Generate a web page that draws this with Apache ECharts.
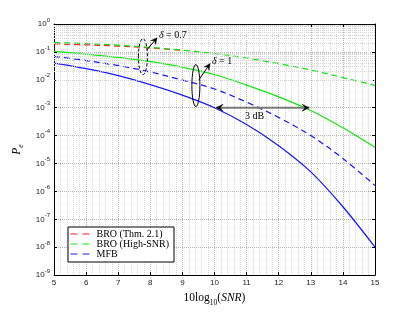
<!DOCTYPE html>
<html><head><meta charset="utf-8">
<script src="https://cdn.jsdelivr.net/npm/echarts@6/dist/echarts.min.js"></script>
<style>html,body{margin:0;padding:0;background:#fff}#c{width:415px;height:312px}</style>
</head><body><div id="c"></div>
<script>
// ---- data ----
const snrDb = [5, 6, 7, 8, 9, 10, 11, 12, 13, 14, 15];
const xTickLabels = ['5','6','7','8','9','10','11','12','13','14','15'];
const yTickExponents = [0, -1, -2, -3, -4, -5, -6, -7, -8, -9];
// BRO (Thm. 2.1), delta = 0.7 (red dashed, visible only at low SNR, then hidden under green)
const broThmD07 = [0.195, 0.180, 0.162, 0.1396, 0.1135];
// BRO (High-SNR), delta = 0.7 (green dashed)
const broHighD07 = [0.2163, 0.1995, 0.1738, 0.1445, 0.1148, 0.0871, 0.0603, 0.0380, 0.0224, 0.0120, 0.00631];
// BRO (High-SNR), delta = 1 (green solid)
const broHighD1 = [0.1035, 0.0832, 0.0631, 0.0457, 0.0282, 0.0155, 0.00646, 0.00245, 7.94e-4, 1.91e-4, 3.80e-5];
// MFB, delta = 0.7 (blue dashed)
const mfbD07 = [0.0692, 0.0490, 0.0324, 0.0191, 0.00977, 0.00468, 0.00158, 4.47e-4, 1.0e-4, 1.51e-5, 1.62e-6];
// MFB, delta = 1 (blue solid)
const mfbD1 = [0.0398, 0.0251, 0.01413, 0.00676, 0.00282, 0.001, 2.51e-4, 4.37e-5, 5.01e-6, 2.82e-7, 1.0e-8];

const pts = arr => arr.map((v, i) => [snrDb[i], v]);
const RED = '#ff1a1a', GREEN = '#14e614', BLUE = '#1a1aff';
const serif = 'Liberation Serif';
const sans = 'Liberation Sans';

const minorVals = [];
for (let e = -9; e <= -1; e++) for (let m = 2; m <= 9; m++) minorVals.push({ yAxis: m * Math.pow(10, e) });

const chart = echarts.init(document.getElementById('c'), null, { renderer: 'canvas' });

const lineSeries = (name, arr, color, dashed) => ({
  name, type: 'line', data: pts(arr), symbol: 'none', smooth: 0.35, z: 3,
  lineStyle: { color, width: 1.25, type: dashed ? [6, 4] : 'solid' },
  itemStyle: { color }
});

chart.setOption({
  animation: false,
  backgroundColor: '#fff',
  grid: { left: 54, right: 40, top: 24, bottom: 35, show: false },
  legend: {
    data: ['BRO (Thm. 2.1)', 'BRO (High-SNR)', 'MFB'],
    orient: 'vertical', left: 68, top: 227,
    padding: [2, 5, 3, 2], itemGap: 0, itemWidth: 21, itemHeight: 10, itemTextGap: 7,
    backgroundColor: '#fff', borderColor: '#000', borderWidth: 1,
    itemStyle: { opacity: 0 },
    lineStyle: { type: [7, 5], width: 1 },
    textStyle: { fontFamily: serif, fontSize: 10, lineHeight: 10, color: '#000' },
    selectedMode: false, z: 10
  },
  xAxis: [{
    type: 'value', min: 5, max: 15, interval: 1, position: 'bottom',
    axisLine: { show: true, onZero: false, lineStyle: { color: '#000', width: 1 } },
    axisTick: { inside: true, length: 3, lineStyle: { color: '#000' } },
    minorTick: { show: false, splitNumber: 5 },
    axisLabel: { fontFamily: sans, fontSize: 8, color: '#222', margin: 4,
      formatter: v => xTickLabels[snrDb.indexOf(v)] ?? '' },
    splitLine: { show: true, lineStyle: { type: 'dotted', color: '#b4b4b4' } },
    minorSplitLine: { show: true, lineStyle: { type: 'dotted', color: '#dadada' } },
    name: '10log{sub|10}({it|SNR})', nameLocation: 'middle', nameGap: 9,
    nameTextStyle: { fontFamily: serif, fontSize: 11.5, color: '#000',
      rich: { sub: { fontFamily: serif, fontSize: 7.5, verticalAlign: 'bottom', lineHeight: 18 },
              it: { fontFamily: serif, fontSize: 11.5, fontStyle: 'italic' } } }
  }, {
    type: 'value', min: 5, max: 15, interval: 1, position: 'top',
    axisLine: { show: true, onZero: false, lineStyle: { color: '#000', width: 1 } },
    axisTick: { inside: true, length: 3, lineStyle: { color: '#000' } },
    axisLabel: { show: false }, splitLine: { show: false }
  }],
  yAxis: [{
    type: 'log', logBase: 10, min: 1e-9, max: 1, interval: 1, position: 'left',
    axisLine: { show: true, onZero: false, lineStyle: { color: '#000', width: 1 } },
    axisTick: { inside: true, length: 3, lineStyle: { color: '#000' } },
    axisLabel: { margin: 4, color: '#222',
      formatter: v => {
        const e = Math.round(Math.log10(v));
        return yTickExponents.includes(e) ? '{b|10}{s|' + e + '}' : '';
      },
      rich: { b: { fontFamily: sans, fontSize: 8, color: '#222', lineHeight: 14 },
              s: { fontFamily: sans, fontSize: 6, color: '#222', lineHeight: 9, verticalAlign: 'top' } } },
    splitLine: { show: true, lineStyle: { type: 'dotted', color: '#b4b4b4' } },
    name: '{it|P}{sub|e}', nameLocation: 'middle', nameGap: 25,
    nameTextStyle: { fontFamily: serif, fontSize: 11.5, color: '#000',
      rich: { it: { fontFamily: serif, fontSize: 11.5, fontStyle: 'italic' },
              sub: { fontFamily: serif, fontSize: 7.5, fontStyle: 'italic', verticalAlign: 'bottom', lineHeight: 16 } } }
  }, {
    type: 'log', logBase: 10, min: 1e-9, max: 1, interval: 1, position: 'right',
    axisLine: { show: true, onZero: false, lineStyle: { color: '#000', width: 1 } },
    axisTick: { inside: true, length: 3, lineStyle: { color: '#000' } },
    axisLabel: { show: false }, splitLine: { show: false }
  }],
  series: [
    { name: 'grid-minor', type: 'line', data: [], z: 1, silent: true,
      markLine: { silent: true, symbol: ['none', 'none'], animation: false,
        label: { show: false },
        lineStyle: { type: 'dotted', color: '#d4d4d4', width: 1 },
        emphasis: { disabled: true },
        data: minorVals } },
    lineSeries('BRO (Thm. 2.1)', broThmD07, RED, true),
    lineSeries('BRO (High-SNR)', broHighD07, GREEN, true),
    lineSeries('BRO (High-SNR)', broHighD1, GREEN, false),
    lineSeries('MFB', mfbD07, BLUE, true),
    lineSeries('MFB', mfbD1, BLUE, false)
  ]
});

// ---- annotations ----
const P = (x, y) => chart.convertToPixel({ xAxisIndex: 0, yAxisIndex: 0 }, [x, y]);
function head(tip, from, color, len, wid) {
  const dx = tip[0] - from[0], dy = tip[1] - from[1];
  const L = Math.hypot(dx, dy), ux = dx / L, uy = dy / L, nx = -uy, ny = ux;
  const bx = tip[0] - ux * len, by = tip[1] - uy * len;
  const mx = tip[0] - ux * len * 0.6, my = tip[1] - uy * len * 0.6;
  return { type: 'polygon', z: 20, silent: true,
    shape: { points: [tip, [bx + nx * wid, by + ny * wid], [mx, my], [bx - nx * wid, by - ny * wid]] },
    style: { fill: color, stroke: color, lineWidth: 0.5 } };
}
function arrow(a, b, color, w, len, wid) {
  return [{ type: 'line', z: 19, silent: true, shape: { x1: a[0], y1: a[1], x2: b[0], y2: b[1] },
            style: { stroke: color, lineWidth: w } }, head(b, a, color, len, wid)];
}
const g = [];
const e07 = P(7.77, 0.0676);
g.push({ type: 'ellipse', z: 18, silent: true, shape: { cx: e07[0], cy: e07[1], rx: 4.5, ry: 18 },
  style: { fill: null, stroke: '#000', lineWidth: 1, lineDash: [3, 2] } });
g.push(...arrow(P(7.897, 0.119), P(8.209, 0.318), '#000', 1, 6, 3));
const t07 = P(8.27, 0.407);
g.push({ type: 'text', z: 20, silent: true, x: t07[0], y: t07[1],
  style: { text: '{i|δ} = 0.7', fill: '#000', font: '10px ' + serif, verticalAlign: 'middle', align: 'left',
    rich: { i: { fontStyle: 'italic', fontFamily: serif, fontSize: 10 } } } });
const e1 = P(9.42, 0.00622);
g.push({ type: 'ellipse', z: 18, silent: true, shape: { cx: e1[0], cy: e1[1], rx: 4, ry: 21 },
  style: { fill: null, stroke: '#000', lineWidth: 1 } });
g.push(...arrow(P(9.517, 0.01016), P(9.86, 0.0377), '#000', 1, 6, 3));
const t1 = P(9.92, 0.0445);
g.push({ type: 'text', z: 20, silent: true, x: t1[0], y: t1[1],
  style: { text: '{i|δ} = 1', fill: '#000', font: '10px ' + serif, verticalAlign: 'middle', align: 'left',
    rich: { i: { fontStyle: 'italic', fontFamily: serif, fontSize: 10 } } } });
const a1 = P(10.05, 1e-3), a2 = P(12.95, 1e-3);
g.push({ type: 'line', z: 19, silent: true, shape: { x1: a1[0], y1: a1[1], x2: a2[0], y2: a2[1] },
  style: { stroke: '#7a7a7a', lineWidth: 2 } });
g.push(head(a1, a2, '#111', 7, 3.5), head(a2, a1, '#111', 7, 3.5));
const t3 = P(11.246, 4.8e-4);
g.push({ type: 'text', z: 20, silent: true, x: t3[0], y: t3[1],
  style: { text: '3 dB', fill: '#000', font: '10px ' + serif, verticalAlign: 'middle', align: 'center' } });
chart.setOption({ graphic: g });
</script>
</body></html>
